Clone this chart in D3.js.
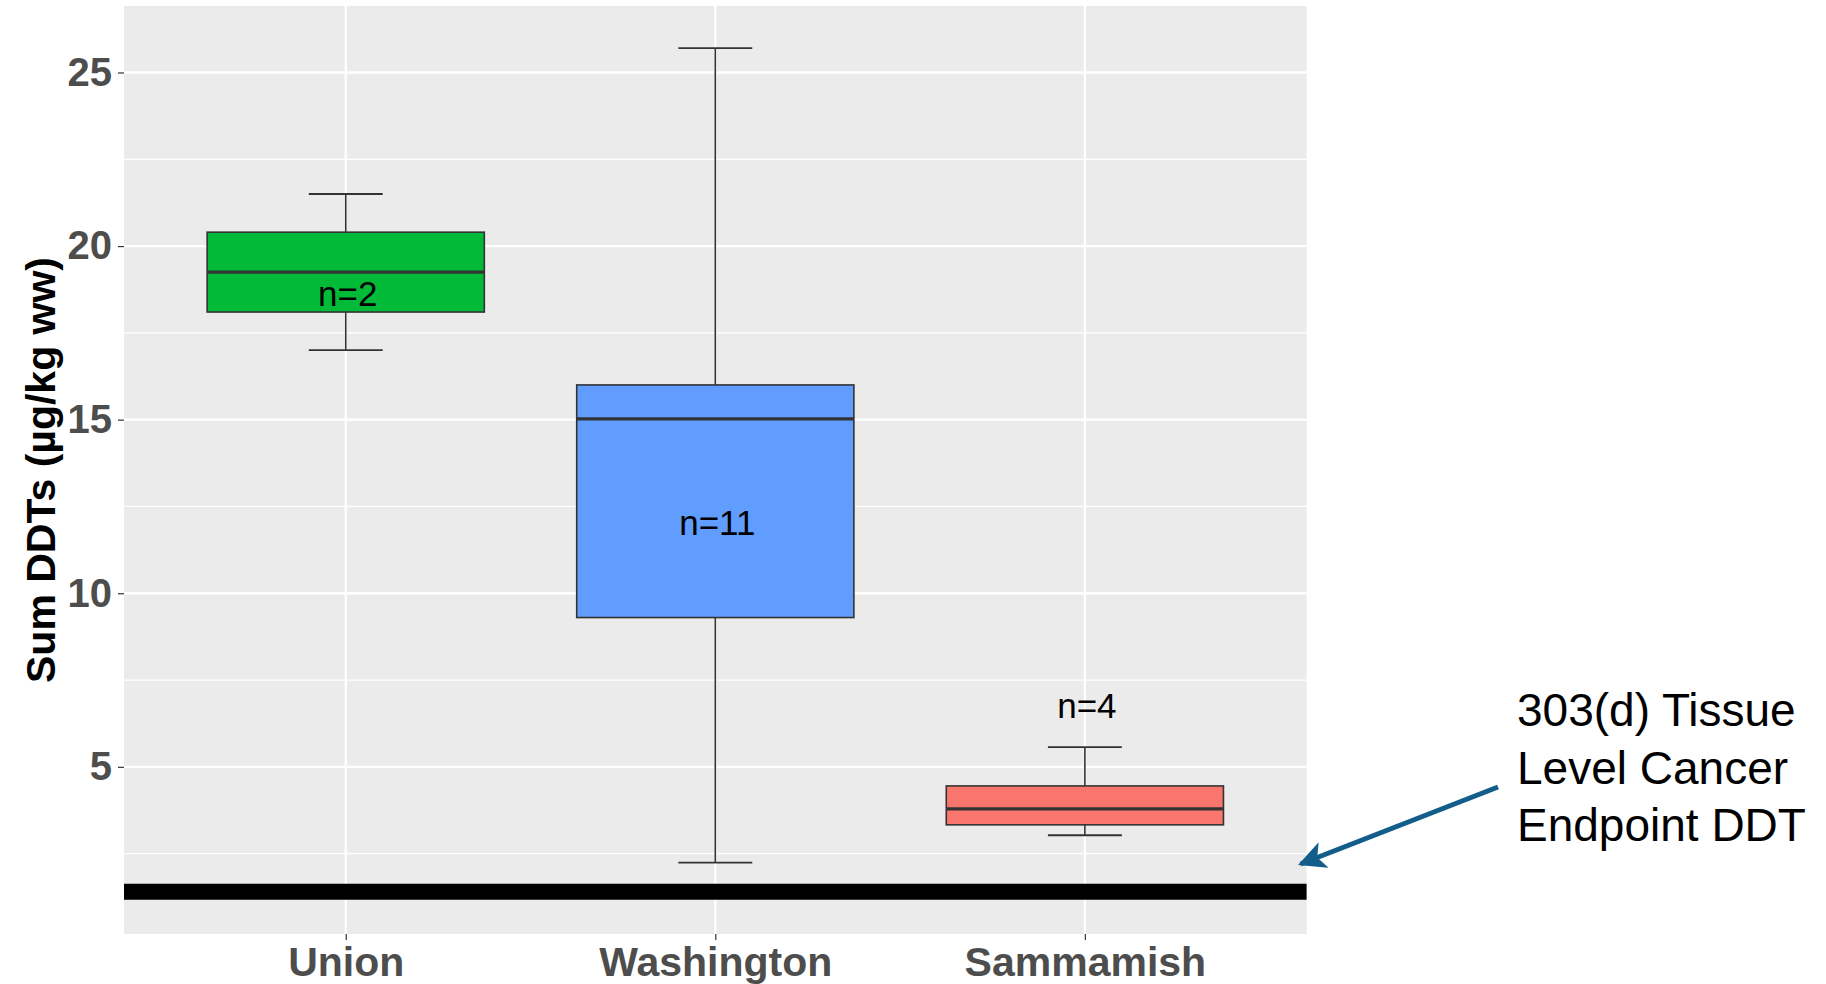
<!DOCTYPE html>
<html>
<head>
<meta charset="utf-8">
<title>Sum DDTs</title>
<script src="https://cdn.jsdelivr.net/npm/d3@7"></script>
<style>
  body { margin: 0; background: #fff; }
  text { font-family: "Liberation Sans", Arial, sans-serif; }
</style>
</head>
<body>
<script>
// data
var sites = ["Union", "Washington", "Sammamish"];
var mins = [17.0, 2.24, 3.03];
var q1s = [18.1, 9.3, 3.33];
var medians = [19.25, 15.02, 3.79];
var q3s = [20.4, 16.0, 4.45];
var maxs = [21.5, 25.7, 5.57];
var counts = [2, 11, 4];
var countLabelY = [18.62, 12.05, 6.78];
var yTicks = [5, 10, 15, 20, 25];
var yMinor = [2.5, 7.5, 12.5, 17.5, 22.5];
var endpoint = 1.4;
var noteLines = ["303(d) Tissue", "Level Cancer", "Endpoint DDT"];

var fills = ["#00BA38", "#619CFF", "#F8766D"];

var W = 1826, H = 984;
// panel edges (window.top is reserved, so no plain "top")
var pL = 124, pR = 1306.6, pT = 6, pB = 934;

var svg = d3.select("body").append("svg")
    .attr("width", W)
    .attr("height", H);

var x = d3.scalePoint().domain(sites).range([pL, pR]).padding(0.6);
var step = x.step();
var y = d3.scaleLinear().domain([0.185, 26.915]).range([pB, pT]);

// panel
svg.append("rect")
    .attr("x", pL).attr("y", pT)
    .attr("width", pR - pL).attr("height", pB - pT)
    .attr("fill", "#EBEBEB");

var grid = svg.append("g");
grid.selectAll("line.minor")
    .data(yMinor)
    .join("line")
    .attr("class", "minor")
    .attr("x1", pL).attr("x2", pR)
    .attr("y1", d => y(d)).attr("y2", d => y(d))
    .attr("stroke", "#fff").attr("stroke-width", 1.2);
grid.selectAll("line.major")
    .data(yTicks)
    .join("line")
    .attr("class", "major")
    .attr("x1", pL).attr("x2", pR)
    .attr("y1", d => y(d)).attr("y2", d => y(d))
    .attr("stroke", "#fff").attr("stroke-width", 2.3);
grid.selectAll("line.vmajor")
    .data(sites)
    .join("line")
    .attr("class", "vmajor")
    .attr("x1", d => x(d)).attr("x2", d => x(d))
    .attr("y1", pT).attr("y2", pB)
    .attr("stroke", "#fff").attr("stroke-width", 2.3);

// boxes
var boxes = sites.map(function(s, i) {
    return {site: s, min: mins[i], q1: q1s[i], med: medians[i], q3: q3s[i], max: maxs[i], fill: fills[i], n: counts[i], ly: countLabelY[i]};
});
var bw = step * 0.75, cw = step * 0.2;

var g = svg.append("g");
var bg = g.selectAll("g.box").data(boxes).join("g").attr("class", "box");

bg.append("line")
    .attr("x1", d => x(d.site)).attr("x2", d => x(d.site))
    .attr("y1", d => y(d.max)).attr("y2", d => y(d.q3))
    .attr("stroke", "#333").attr("stroke-width", 1.6);
bg.append("line")
    .attr("x1", d => x(d.site)).attr("x2", d => x(d.site))
    .attr("y1", d => y(d.q1)).attr("y2", d => y(d.min))
    .attr("stroke", "#333").attr("stroke-width", 1.6);
bg.append("line")
    .attr("x1", d => x(d.site) - cw / 2).attr("x2", d => x(d.site) + cw / 2)
    .attr("y1", d => y(d.max)).attr("y2", d => y(d.max))
    .attr("stroke", "#333").attr("stroke-width", 1.8);
bg.append("line")
    .attr("x1", d => x(d.site) - cw / 2).attr("x2", d => x(d.site) + cw / 2)
    .attr("y1", d => y(d.min)).attr("y2", d => y(d.min))
    .attr("stroke", "#333").attr("stroke-width", 1.8);
bg.append("rect")
    .attr("x", d => x(d.site) - bw / 2)
    .attr("y", d => y(d.q3))
    .attr("width", bw)
    .attr("height", d => y(d.q1) - y(d.q3))
    .attr("fill", d => d.fill)
    .attr("stroke", "#333").attr("stroke-width", 1.6);
bg.append("line")
    .attr("x1", d => x(d.site) - bw / 2).attr("x2", d => x(d.site) + bw / 2)
    .attr("y1", d => y(d.med)).attr("y2", d => y(d.med))
    .attr("stroke", "#333").attr("stroke-width", 3.2);
bg.append("text")
    .attr("x", d => x(d.site) + 2)
    .attr("y", d => y(d.ly))
    .attr("text-anchor", "middle")
    .attr("dominant-baseline", "central")
    .attr("font-size", 35)
    .attr("fill", "#000")
    .text(d => "n=" + d.n);

// endpoint line
svg.append("line")
    .attr("x1", pL).attr("x2", pR)
    .attr("y1", y(endpoint)).attr("y2", y(endpoint))
    .attr("stroke", "#000").attr("stroke-width", 16);

// axes
var yAxis = svg.append("g")
    .attr("transform", "translate(" + pL + ",0)")
    .call(d3.axisLeft(y).tickValues(yTicks).tickSize(6).tickPadding(6));
yAxis.select(".domain").remove();
yAxis.selectAll(".tick line").attr("stroke", "#333").attr("stroke-width", 1.2);
yAxis.selectAll(".tick text")
    .attr("font-size", 40).attr("font-weight", "bold").attr("fill", "#4D4D4D")
    .attr("font-family", "'Liberation Sans', Arial, sans-serif");

var xAxis = svg.append("g")
    .attr("transform", "translate(0," + pB + ")")
    .call(d3.axisBottom(x).tickSize(6).tickPadding(7));
xAxis.select(".domain").remove();
xAxis.selectAll(".tick line").attr("stroke", "#333").attr("stroke-width", 1.2);
xAxis.selectAll(".tick text")
    .attr("font-size", 41).attr("font-weight", "bold").attr("fill", "#4D4D4D")
    .attr("font-family", "'Liberation Sans', Arial, sans-serif");

svg.append("text")
    .attr("transform", "translate(55," + ((pT + pB) / 2) + ") rotate(-90)")
    .attr("text-anchor", "middle")
    .attr("font-size", 41)
    .attr("font-weight", "bold")
    .attr("fill", "#000")
    .text("Sum DDTs (µg/kg ww)");

// annotation
svg.append("defs").append("marker")
    .attr("id", "head")
    .attr("viewBox", "0 0 10 10")
    .attr("refX", 9).attr("refY", 5)
    .attr("markerWidth", 5.5).attr("markerHeight", 5.5)
    .attr("markerUnits", "strokeWidth")
    .attr("orient", "auto")
    .append("path")
    .attr("d", "M0,0 L10,5 L0,10 L2.5,5 Z")
    .attr("fill", "#135D8A");

svg.append("line")
    .attr("x1", 1498).attr("y1", 787)
    .attr("x2", pR - 6).attr("y2", y(2.2))
    .attr("stroke", "#135D8A").attr("stroke-width", 5)
    .attr("marker-end", "url(#head)");

svg.append("text")
    .attr("x", 1517)
    .attr("y", 726)
    .attr("font-size", 46)
    .attr("fill", "#000")
    .selectAll("tspan")
    .data(noteLines)
    .join("tspan")
    .attr("x", 1517)
    .attr("dy", (d, i) => i === 0 ? 0 : 57.5)
    .text(d => d);
</script>
</body>
</html>
